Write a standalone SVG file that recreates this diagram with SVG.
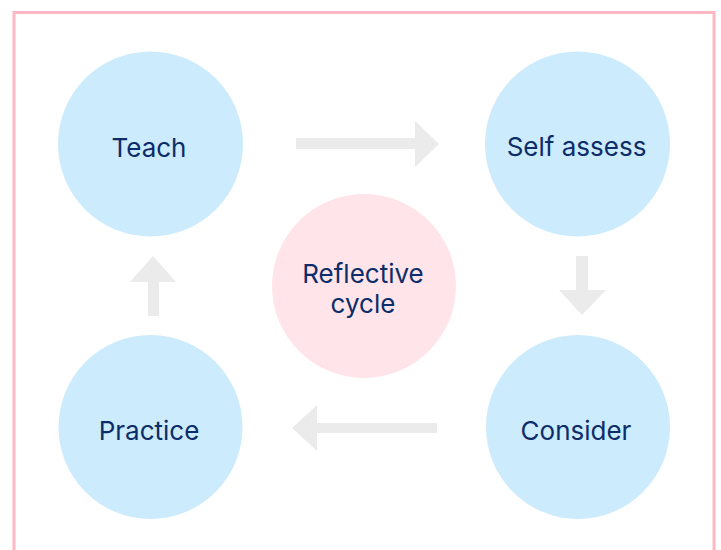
<svg xmlns="http://www.w3.org/2000/svg" width="721" height="550" viewBox="0 0 721 550">
<style>
.step{fill:#CCEBFC}
.hub{fill:#FFE4E9}
.lbl{font-family:Inter,"Liberation Sans",sans-serif;font-size:26px;fill:#0C2D69;text-anchor:middle}
.arr{fill:#EBEBEB}
</style>
<rect width="721" height="550" fill="#FFFFFF"/>
<rect x="14" y="12.5" width="700" height="560" fill="none" stroke="#FFB8C3" stroke-width="3"/>
<g id="connectors">
<polygon class="arr" points="296,138 415,138 415,121 439,144 415,167 415,149 296,149"/>
<polygon class="arr" points="576,256 588,256 588,290 606,290 582,315 559,290 576,290"/>
<polygon class="arr" points="437,423 317,423 317,405 292,428 317,451 317,433 437,433"/>
<polygon class="arr" points="148,316 159,316 159,282 176,282 153,256 130,282 148,282"/>
</g>
<g id="teach"><circle class="step" cx="150.5" cy="144" r="92.5"/><text class="lbl" x="149" y="157">Teach</text></g>
<g id="self-assess"><circle class="step" cx="577.5" cy="144" r="92.5"/><text class="lbl" x="576.5" y="156">Self assess</text></g>
<g id="reflective-cycle"><circle class="hub" cx="364" cy="286" r="92"/><text class="lbl" x="363" y="283">Reflective</text><text class="lbl" x="363" y="313">cycle</text></g>
<g id="consider"><circle class="step" cx="578" cy="427" r="92"/><text class="lbl" x="576" y="440">Consider</text></g>
<g id="practice"><circle class="step" cx="150.5" cy="427" r="92"/><text class="lbl" x="149" y="440">Practice</text></g>
</svg>
